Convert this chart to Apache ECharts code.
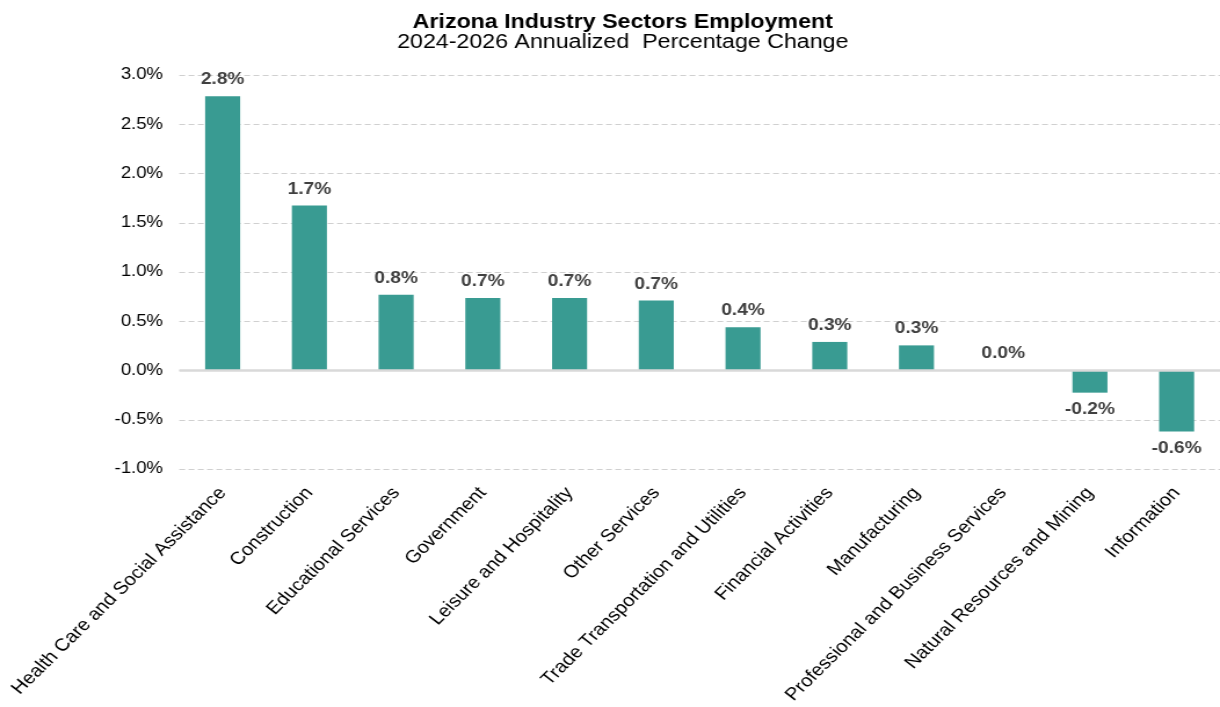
<!DOCTYPE html>
<html>
<head>
<meta charset="utf-8">
<script src="https://cdn.jsdelivr.net/npm/echarts@6/dist/echarts.min.js"></script>
<style>
html,body{margin:0;padding:0;background:#fff;overflow:hidden;}
#wrap{width:1220px;height:707px;overflow:hidden;}
#c{width:1052px;height:707px;transform:scaleX(1.1597);transform-origin:0 0;}
</style>
</head>
<body>
<div id="wrap"><div id="c"></div></div>
<script>
const titleText = 'Arizona Industry Sectors Employment';
const subtitleText = '2024-2026 Annualized  Percentage Change';
const categories = ['Health Care and Social Assistance','Construction','Educational Services','Government','Leisure and Hospitality','Other Services','Trade Transportation and Utilities','Financial Activities','Manufacturing','Professional and Business Services','Natural Resources and Mining','Information'];
const values = [2.785, 1.675, 0.77, 0.735, 0.735, 0.71, 0.44, 0.29, 0.255, 0.003, -0.225, -0.62];
const yTicks = { min: -1.0, max: 3.0, interval: 0.5 };

const font = '"Liberation Sans", Arial, sans-serif';
const chart = echarts.init(document.getElementById('c'));
chart.setOption({
  animation: false,
  backgroundColor: '#fff',
  title: [
    { text: titleText, left: 532, top: 7, textAlign: 'center',
      textStyle: { fontFamily: font, fontSize: 20, fontWeight: 'bold', color: '#000' } },
    { text: subtitleText, left: 532, top: 27, textAlign: 'center',
      textStyle: { fontFamily: font, fontSize: 20, fontWeight: 'normal', color: '#000' } }
  ],
  grid: { left: 154.6, right: -7.4, top: 75, bottom: 238, containLabel: false },
  xAxis: {
    type: 'category',
    data: categories,
    axisLine: { show: false },
    axisTick: { show: false },
    axisLabel: { rotate: 48.5, interval: 0, margin: 21, fontFamily: font, fontSize: 17.5, color: '#000' }
  },
  yAxis: {
    type: 'value',
    min: yTicks.min, max: yTicks.max, interval: yTicks.interval,
    axisLine: { show: false },
    axisTick: { show: false },
    axisLabel: { margin: 14, fontFamily: font, fontSize: 16, color: '#000',
      formatter: v => v.toFixed(1) + '%' },
    splitLine: { lineStyle: { color: '#d0d0d0', type: [5, 3], width: 1 } }
  },
  series: [{
    type: 'bar',
    data: values.map(v => ({ value: v, label: { position: v < 0 ? 'bottom' : 'top' } })),
    barWidth: 30.2,
    itemStyle: { color: '#399b92' },
    label: {
      show: true, distance: 8,
      fontFamily: font, fontSize: 16.5, fontWeight: 'bold', color: '#404040',
      formatter: p => p.value.toFixed(1) + '%'
    },
    markLine: {
      silent: true, symbol: 'none', label: { show: false },
      lineStyle: { color: '#d9d9d9', type: 'solid', width: 2.5 },
      data: [{ yAxis: 0 }]
    },
    z: 3
  }]
});
</script>
</body>
</html>
